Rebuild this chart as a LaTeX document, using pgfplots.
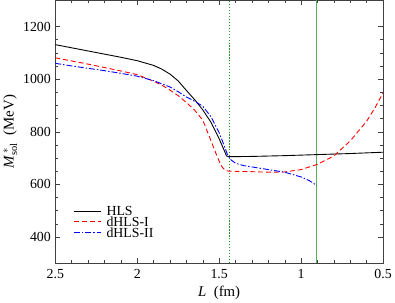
\documentclass[border=0pt]{standalone}
\usepackage{fontspec}
\setmainfont{Liberation Serif}
\usepackage{pgfplots}
\pgfplotsset{compat=1.18}
\definecolor{lgreen}{RGB}{90,175,90}
\definecolor{dgreen}{RGB}{40,150,40}
\begin{document}
\begin{tikzpicture}[font=\fontsize{15}{18}\selectfont]
\begin{axis}[
 scale only axis, width=331.5pt, height=266pt,
 x dir=reverse, xmin=0.5, xmax=2.5, ymin=300, ymax=1300,
 xtick={0.5,1,1.5,2,2.5},
 minor x tick num=4,
 ytick={400,600,...,1200}, minor y tick num=3,
 tick align=inside,
 major tick length=5pt, minor tick length=3pt,
 /pgf/number format/assume math mode=true,
 /pgf/number format/set thousands separator={},
 ticklabel style={font=\fontsize{14}{16}\selectfont},
 xticklabel style={yshift=-3pt},
 yticklabel style={xshift=-1pt},
 xlabel={\textit{L}\ \ (fm)}, ylabel={\textit{M}$^{\,*}_{\mathrm{sol}}$\ \ (MeV)},
 ylabel style={yshift=-1pt},
 every axis legend/.style={at={(0.055,0.095)}, anchor=south west, cells={anchor=west},
   font=\fontsize{14}{15}\selectfont, row sep=0pt, inner sep=0pt, column sep=5pt,
   nodes={inner sep=0.5pt}},
 legend image code/.code={\draw[#1] (0pt,0pt) -- (27pt,0pt);},
 axis line style={black!75},
 every tick/.style={black!75},
]
\addplot[draw=dgreen, line width=1.2pt, dash pattern=on 1.2pt off 1.8pt, forget plot] coordinates {(1.435,300) (1.435,1300)};
\addplot[draw=lgreen, line width=0.8pt, forget plot] coordinates {(0.905,300) (0.905,1300)};
\addplot[draw=black, line width=0.9pt] coordinates {
(2.5,1131) (2.4,1119) (2.3,1107) (2.2,1095) (2.1,1083) (2.0,1070) (1.9,1052)
(1.85,1038) (1.8,1019) (1.75,993) (1.7,957) (1.65,922) (1.6,883) (1.55,836)
(1.5,773) (1.47,730) (1.455,708) (1.44,705) (1.3,706) (1.1,709) (0.9,713) (0.7,717) (0.5,722)};
\addlegendentry{HLS}
\addplot[draw=red, line width=0.9pt, dash pattern=on 5pt off 3pt] coordinates {
(2.5,1081) (2.4,1069) (2.3,1057) (2.2,1044) (2.1,1031) (2.0,1017) (1.9,992)
(1.85,977) (1.8,958) (1.75,937) (1.7,911) (1.65,882) (1.6,844) (1.55,766)
(1.52,718) (1.5,688) (1.48,664) (1.46,652) (1.44,650) (1.3,648) (1.2,646) (1.1,647)
(1.0,656) (0.9,676) (0.8,708) (0.7,765) (0.6,840) (0.55,890) (0.5,948)};
\addlegendentry{dHLS-I}
\addplot[draw=blue, line width=0.9pt, dash pattern=on 6pt off 2pt on 1.5pt off 2pt] coordinates {
(2.5,1060) (2.4,1050) (2.3,1041) (2.2,1032) (2.1,1022) (2.0,1011) (1.9,994)
(1.8,970) (1.75,952) (1.7,932) (1.65,916) (1.6,897) (1.55,857) (1.5,796)
(1.47,748) (1.45,714) (1.43,694) (1.4,680) (1.35,671) (1.3,666) (1.2,656)
(1.1,646) (1.0,628) (0.95,614) (0.905,596)};
\addlegendentry{dHLS-II}
\end{axis}
\end{tikzpicture}
\end{document}
